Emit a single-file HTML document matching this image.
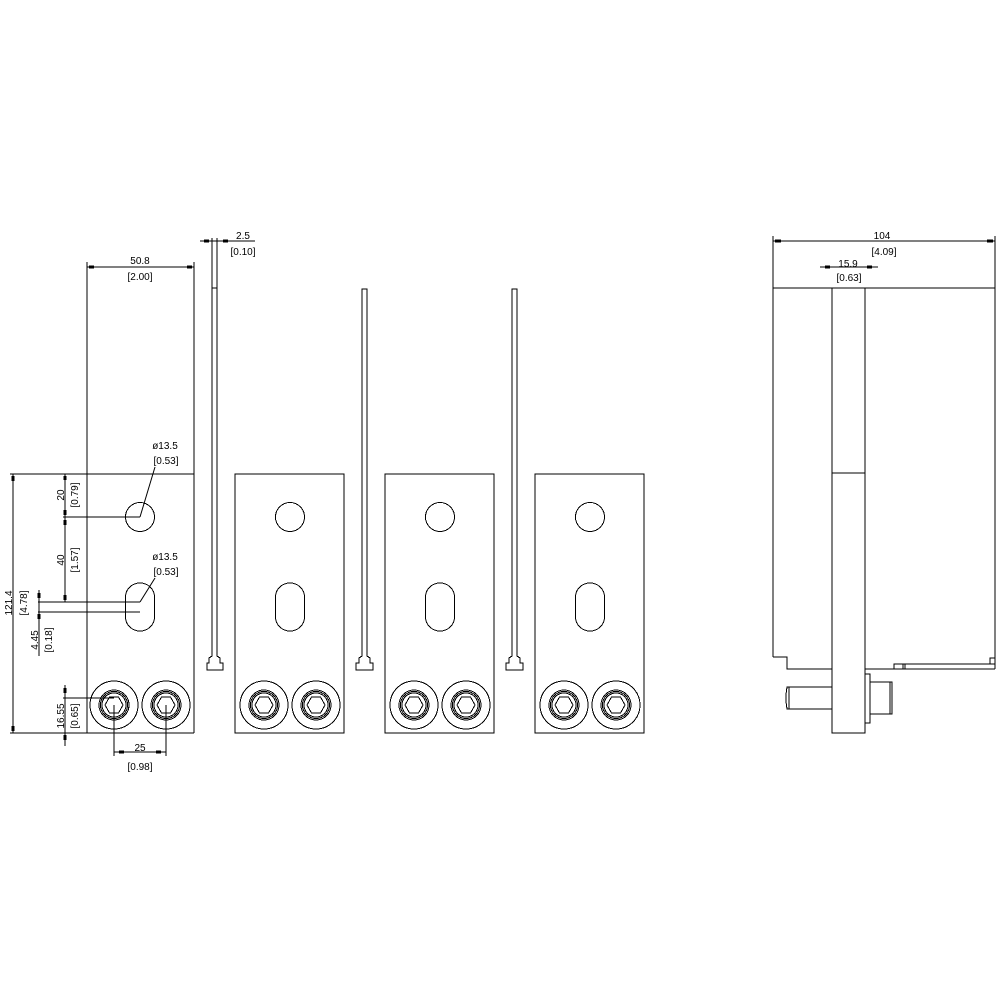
<!DOCTYPE html>
<html><head><style>body{margin:0;background:#fff}svg{display:block}text{font-family:"Liberation Sans",sans-serif;font-size:10px;fill:#000}</style></head><body>
<svg width="1000" height="1000" viewBox="0 0 1000 1000" xmlns="http://www.w3.org/2000/svg" fill="none" stroke="#000" stroke-width="1" shape-rendering="crispEdges">
<defs>
<g id="bolt">
<circle r="24"/><circle r="15"/><circle r="13.5"/><circle r="12"/>
<polygon points="9,0 4.5,8 -4.5,8 -9,0 -4.5,-8 4.5,-8"/>
</g>
<g id="holes">
<circle cx="0" cy="517" r="14.5"/>
<path d="M-14.5,597 A14.5,14 0 0 1 14.5,597 L14.5,617 A14.5,14 0 0 1 -14.5,617 Z"/>
</g>
<g id="strip">
<path d="M0,289 H5 V656 L8,658 V663 H11 V670 H-6 V663 H-3 V658 L0,656 Z"/>
</g>
</defs>
<line x1="87" y1="262" x2="87" y2="733"/>
<line x1="194" y1="262" x2="194" y2="733"/>
<line x1="10" y1="474" x2="194" y2="474"/>
<line x1="10" y1="733" x2="194" y2="733"/>
<use href="#holes" x="140"/>
<use href="#bolt" x="114" y="705"/><use href="#bolt" x="166" y="705"/>
<path d="M212,238 V656 L209,658 V663 H207 V670 H223 V663 H220 V658 L217,656 V238"/>
<line x1="212" y1="288" x2="217" y2="288"/>
<rect x="235" y="474" width="109" height="259"/>
<rect x="385" y="474" width="109" height="259"/>
<rect x="535" y="474" width="109" height="259"/>
<use href="#holes" x="290"/><use href="#holes" x="440"/><use href="#holes" x="590"/>
<use href="#bolt" x="264" y="705"/><use href="#bolt" x="316" y="705"/>
<use href="#bolt" x="414" y="705"/><use href="#bolt" x="466" y="705"/>
<use href="#bolt" x="564" y="705"/><use href="#bolt" x="616" y="705"/>
<use href="#strip" x="362"/><use href="#strip" x="512"/>
<line x1="773" y1="236" x2="773" y2="657"/>
<line x1="995" y1="236" x2="995" y2="669"/>
<line x1="773" y1="288" x2="995" y2="288"/>
<path d="M773,657 H787 V669 H832"/>
<rect x="832" y="288" width="33" height="445"/>
<line x1="832" y1="473" x2="865" y2="473"/>
<line x1="865" y1="669" x2="995" y2="669"/>
<path d="M894,669 V664 H995 M903,664 V669 M905,664 V669 M990,664 V658 H995"/>
<path d="M832,687 H787 Q785,698 787,709 H832 M789,687 V709"/>
<rect x="865" y="674" width="5" height="49"/>
<path d="M870,682 H892 V714 H870 M890,682 V714"/>
<g stroke-width="1">
<line x1="87" y1="267" x2="194" y2="267"/>
<line x1="200" y1="241" x2="255" y2="241"/>
<line x1="773" y1="241" x2="995" y2="241"/>
<line x1="820" y1="267" x2="878" y2="267"/>
<line x1="13" y1="474" x2="13" y2="733"/>
<line x1="65" y1="474" x2="65" y2="602"/>
<line x1="63" y1="517" x2="140" y2="517"/>
<line x1="38" y1="602" x2="140" y2="602"/>
<line x1="38" y1="612" x2="140" y2="612"/>
<line x1="39" y1="590" x2="39" y2="656"/>
<line x1="65" y1="685" x2="65" y2="746"/>
<line x1="63" y1="698" x2="114" y2="698"/>
<line x1="114" y1="705" x2="114" y2="756"/>
<line x1="166" y1="705" x2="166" y2="756"/>
<line x1="114" y1="752" x2="166" y2="752"/>
<line x1="155" y1="467" x2="140" y2="517" shape-rendering="auto"/>
<line x1="155" y1="578" x2="140" y2="602" shape-rendering="auto"/>
</g>
<g stroke-width="3">
<path d="M89,267h5M187,267h5M204,241h5M223,241h5M775,241h6M987,241h6M825,267h5M867,267h5"/>
<path d="M13,476v5M13,726v5M65,476v4M65,510v5M65,520v5M65,595v5M65,688v5M65,735v5M39,593v5M39,614v5M119,752h5M156,752h5"/>
</g>
<g stroke="none">
<text x="140" y="264" text-anchor="middle">50.8</text>
<text x="140" y="280" text-anchor="middle">[2.00]</text>
<text x="243" y="239" text-anchor="middle">2.5</text>
<text x="243" y="255" text-anchor="middle">[0.10]</text>
<text x="882" y="239" text-anchor="middle">104</text>
<text x="884" y="255" text-anchor="middle">[4.09]</text>
<text x="848" y="267" text-anchor="middle">15.9</text>
<text x="849" y="281" text-anchor="middle">[0.63]</text>
<text x="165" y="449" text-anchor="middle">ø13.5</text>
<text x="166" y="464" text-anchor="middle">[0.53]</text>
<text x="165" y="560" text-anchor="middle">ø13.5</text>
<text x="166" y="575" text-anchor="middle">[0.53]</text>
<text x="140" y="751" text-anchor="middle">25</text>
<text x="140" y="770" text-anchor="middle">[0.98]</text>
<text transform="translate(12,603) rotate(-90)" text-anchor="middle">121.4</text>
<text transform="translate(27,603) rotate(-90)" text-anchor="middle">[4.78]</text>
<text transform="translate(64,495) rotate(-90)" text-anchor="middle">20</text>
<text transform="translate(78,495) rotate(-90)" text-anchor="middle">[0.79]</text>
<text transform="translate(64,560) rotate(-90)" text-anchor="middle">40</text>
<text transform="translate(78,560) rotate(-90)" text-anchor="middle">[1.57]</text>
<text transform="translate(38,640) rotate(-90)" text-anchor="middle">4.45</text>
<text transform="translate(52,640) rotate(-90)" text-anchor="middle">[0.18]</text>
<text transform="translate(64,716) rotate(-90)" text-anchor="middle">16.55</text>
<text transform="translate(78,716) rotate(-90)" text-anchor="middle">[0.65]</text>
</g>
</svg>
</body></html>
